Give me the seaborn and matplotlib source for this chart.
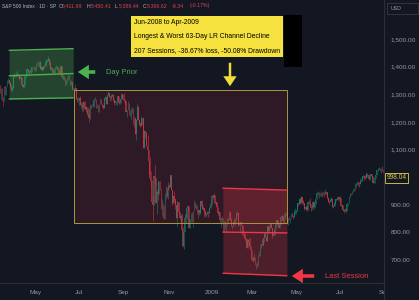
import numpy as np
import pandas as pd
import matplotlib
matplotlib.use("Agg")
import matplotlib.pyplot as plt
import seaborn as sns
from matplotlib.patches import Rectangle, FancyArrowPatch
from matplotlib.lines import Line2D
from matplotlib.transforms import Bbox, TransformedBbox, blended_transform_factory

# ---------------- data ----------------
start_date = "2008-03-12"
end_date = "2009-09-01"
holidays = ["2008-03-21", "2008-05-26", "2008-07-04", "2008-09-01", "2008-11-27",
            "2008-12-25", "2009-01-01", "2009-01-19", "2009-02-16", "2009-04-10",
            "2009-05-25", "2009-07-03"]
first_open = 1321

closes = [
    1309,1315,1288,1277,1331,1298,1330,1350,1353,1341,1326,1315,1323,  # Mar 08
    1370,1368,1369,1370,1373,1366,1355,1361,1333,1328,1334,1365,1366,1390,1388,1376,1380,1389,1398,1396,1391,1386,  # Apr
    1409,1414,1408,1418,1393,1398,1388,1404,1403,1409,1424,1425,1427,1413,1391,1394,1376,1385,1391,1398,1400,  # May
    1386,1378,1377,1404,1361,1362,1358,1336,1340,1360,1360,1351,1338,1343,1318,1318,1314,1322,1283,1278,1280,  # Jun
    1285,1262,1262,1253,1273,1245,1254,1240,1229,1215,1246,1261,1260,1261,1278,1283,1253,1258,1235,1264,1284,1267,  # Jul
    1261,1249,1285,1289,1266,1296,1305,1290,1286,1293,1298,1279,1267,1275,1277,1293,1267,1272,1282,1301,1283,  # Aug
    1278,1275,1237,1242,1268,1225,1232,1250,1252,1193,1214,1156,1207,1255,1208,1189,1186,1209,1213,1106,1166,  # Sep
    1161,1114,1099,1057,996,985,910,899,1003,998,908,946,940,985,956,897,908,877,848,941,930,954,969,  # Oct
    966,1006,953,905,931,920,899,852,911,873,851,859,807,752,800,852,857,888,896,  # Nov
    816,849,870,845,876,910,889,899,873,880,869,913,904,885,888,872,863,868,873,870,890,903,  # Dec
    932,927,935,907,910,891,871,872,843,844,851,805,841,828,832,837,846,874,845,826,  # Jan 09
    825,838,832,845,869,870,828,834,836,827,789,789,779,770,743,773,765,752,735,  # Feb
    700,696,712,682,683,677,720,721,750,757,753,778,795,785,768,823,806,814,832,816,788,798,  # Mar
    811,834,843,835,815,825,857,858,841,852,866,870,832,850,843,852,866,857,855,873,873,  # Apr
    878,907,904,920,907,929,909,908,884,893,882,910,908,904,888,887,910,893,906,919,  # May
    942,945,932,943,940,939,942,940,944,946,923,911,910,918,921,893,896,901,920,918,928,919,  # Jun
    923,896,899,881,879,882,879,901,905,933,941,940,951,955,954,977,979,982,979,975,986,987,  # Jul
    1003,1005,1002,997,1010,1007,994,1006,1012,1004,980,990,997,1007,1026,1025,1028,1028,1031,1029,1021,  # Aug
    998.04,  # Sep 1
]
highs = [
    1333,1321,1321,1290,1331,1331,1330,1350,1358,1353,1345,1336,1329,
    1371,1377,1375,1381,1386,1370,1368,1367,1359,1336,1337,1367,1369,1395,1391,1389,1387,1396,1399,1402,1398,1404,
    1410,1422,1415,1420,1419,1404,1396,1404,1407,1420,1424,1426,1440,1426,1419,1400,1394,1388,1391,1405,1404,
    1400,1394,1386,1404,1404,1371,1366,1358,1353,1361,1371,1370,1351,1348,1342,1323,1326,1336,1321,1286,1291,
    1285,1292,1272,1273,1274,1277,1257,1254,1254,1226,1247,1262,1263,1267,1280,1291,1283,1264,1260,1265,1285,1284,
    1270,1260,1285,1292,1289,1297,1313,1304,1292,1300,1302,1300,1281,1277,1279,1294,1292,1276,1287,1301,1297,
    1304,1281,1275,1244,1274,1268,1243,1250,1255,1250,1222,1214,1210,1265,1256,1211,1198,1220,1215,1210,1169,
    1167,1162,1153,1099,1072,1021,988,933,1006,1045,994,955,984,986,985,955,922,896,896,941,969,963,984,
    975,1007,1005,953,931,951,918,896,913,905,870,865,865,820,801,865,868,888,897,
    889,849,871,875,876,918,911,904,898,882,880,914,911,918,894,890,881,870,874,874,891,911,
    934,936,943,928,910,911,890,877,867,851,858,850,841,840,838,852,852,877,872,851,
    826,842,851,850,871,877,868,839,836,839,821,796,797,778,778,776,781,779,751,
    730,712,724,712,690,695,720,731,753,758,775,778,803,798,784,823,823,826,832,829,809,810,
    811,845,843,842,835,828,857,864,857,852,872,875,868,851,861,853,871,869,864,882,888,
    882,907,907,920,929,930,922,916,905,898,896,910,916,924,902,896,911,913,909,920,
    947,950,945,943,951,946,946,949,956,946,942,928,918,923,927,918,899,911,922,922,928,931,
    932,921,899,899,886,887,883,901,905,933,942,941,951,956,960,979,979,983,982,978,996,994,
    1004,1006,1006,1009,1018,1010,1005,1013,1013,1012,998,991,999,1008,1027,1034,1038,1033,1033,1039,1025,
    1029,
]
lows = [
    1306,1283,1277,1257,1278,1298,1299,1330,1342,1336,1325,1312,1313,
    1324,1361,1361,1363,1370,1361,1350,1351,1332,1324,1324,1335,1358,1370,1383,1371,1376,1375,1382,1394,1389,1384,
    1385,1406,1404,1397,1392,1389,1384,1386,1396,1404,1404,1415,1421,1406,1387,1387,1374,1374,1378,1390,1397,
    1380,1373,1373,1377,1359,1350,1350,1335,1334,1340,1354,1350,1333,1333,1317,1315,1307,1314,1283,1272,1274,
    1262,1261,1252,1240,1239,1245,1236,1225,1225,1200,1211,1245,1257,1255,1254,1277,1252,1251,1234,1235,1264,1263,
    1254,1247,1249,1279,1263,1263,1294,1289,1276,1279,1290,1275,1261,1262,1262,1277,1266,1264,1268,1283,1281,
    1272,1265,1236,1217,1243,1224,1221,1211,1233,1192,1180,1156,1133,1207,1207,1187,1180,1187,1188,1106,1106,
    1140,1111,1098,1008,996,970,909,840,912,972,907,866,918,940,952,884,860,853,848,849,922,928,922,
    960,971,952,899,907,907,884,852,819,870,846,838,806,748,741,801,835,848,880,
    815,817,837,837,818,880,888,885,868,851,862,868,895,883,880,857,860,857,866,857,870,889,
    899,920,927,903,896,888,864,862,837,818,831,804,806,817,804,827,836,846,845,822,
    812,821,831,823,845,862,822,826,805,826,787,780,777,754,743,743,752,752,735,
    700,693,698,682,667,673,680,716,716,743,753,749,766,782,767,770,806,802,814,814,780,790,
    790,814,826,826,814,816,830,850,838,835,847,860,832,826,843,835,853,855,850,856,866,
    866,879,897,903,901,909,904,899,882,882,878,883,903,899,879,883,881,892,887,903,
    923,937,926,930,932,927,935,927,939,935,919,911,904,909,915,892,889,896,896,915,916,914,
    920,896,886,879,869,880,872,876,896,910,928,934,940,945,949,953,966,973,969,965,976,984,
    988,998,991,994,1001,1000,991,991,1005,995,979,980,980,996,1009,1023,1026,1022,1016,1023,1015,
    997,
]

month_ticks = ["2008-05", "2008-07", "2008-09", "2008-11", "2009-01", "2009-03", "2009-05", "2009-07", "2009-09"]
month_labels = ["May", "Jul", "Sep", "Nov", "2009", "Mar", "May", "Jul", "Sep"]
price_ticks = [700, 800, 900, 1000, 1100, 1200, 1300, 1400, 1500]
hidden_price_ticks = [1000]  # covered by the last-price label

# decline box (start close -> end close)
box_dates = ["2008-06-24", "2009-04-20"]
box_prices = [832.39, 1314.29]
# 63-day LR channels: [start, end]
green_dates = ["2008-03-26", "2008-06-23"]
green_top = [1459, 1465]
green_mid = [1367, 1375]
green_bot = [1283, 1287]
red_dates = ["2009-01-20", "2009-04-20"]
red_top = [960, 953]
red_mid = [801, 798]
red_bot = [652, 643]

header_parts = [(2, "S&P 500 Index · 1D · SP", "g"), (58.5, "O", "g"), (62, "5,411.99", "r"),
                (86.5, "H", "g"), (90.5, "5,450.41", "r"), (114.5, "L", "g"), (118.5, "5,386.44", "r"),
                (143, "C", "g"), (147, "5,396.62", "r"), (172, "-9.34", "r"), (190, "(-0.17%)", "r")]
note_lines = ["Jun-2008 to Apr-2009", "Longest & Worst 63-Day LR Channel Decline",
              "207 Sessions, -36.67% loss, -50.08% Drawdown"]

# ---------------- style ----------------
bg = "#131722"
sep = "#2a2e39"
txt = "#9598a1"
teal = "#089981"
red = "#f23645"
green = "#4caf50"
yellow = "#f5e23f"

sns.set_theme(style="dark", rc={"axes.facecolor": bg, "figure.facecolor": bg,
                                 "axes.edgecolor": bg, "grid.color": bg})
plt.rcParams["font.family"] = ["Liberation Sans", "DejaVu Sans"]

W, H = 419, 300
fig = plt.figure(figsize=(W / 100, H / 100), dpi=100)
ax = fig.add_axes([0, 17 / H, 384 / W, 283 / H])
ax.set_facecolor(bg)


def fp(x, y):
    return (x / W, 1 - y / H)


dates = pd.bdate_range(start_date, end_date)
dates = dates[~dates.isin(pd.to_datetime(holidays))]
df = pd.DataFrame({"date": dates, "close": closes, "high": highs, "low": lows})
df["open"] = [first_open] + closes[:-1]
df["x"] = np.arange(len(df))
df["hi"] = df[["high", "open", "close"]].max(axis=1)
df["lo"] = df[["low", "open", "close"]].min(axis=1)
up = (df["close"] >= df["open"]).to_numpy()
cols = np.where(up, teal, red)


def idx(d):
    return int(df.index[df["date"] == pd.Timestamp(d)][0])


ax.vlines(df["x"], df["lo"], df["hi"], colors=cols, lw=0.55, alpha=0.62, zorder=2)
body = (df["close"] - df["open"]).abs().clip(lower=0.8)
ax.bar(df["x"], body, bottom=df[["open", "close"]].min(axis=1), width=0.75,
       color=cols, alpha=0.62, lw=0, zorder=2)

# decline box
bx0, bx1 = idx(box_dates[0]), idx(box_dates[1])
ax.add_patch(Rectangle((bx0, box_prices[0]), bx1 - bx0, box_prices[1] - box_prices[0],
                       fc=red, alpha=0.12, ec="none", zorder=3))
ax.add_patch(Rectangle((bx0, box_prices[0]), bx1 - bx0, box_prices[1] - box_prices[0],
                       fc="none", ec="#a8983a", lw=0.7, zorder=4))

# channels
for dts, top, mid, bot, c, a in [(green_dates, green_top, green_mid, green_bot, green, 0.3),
                                 (red_dates, red_top, red_mid, red_bot, red, 0.26)]:
    xs = [idx(dts[0]), idx(dts[1])]
    ax.fill_between(xs, bot, top, color=c, alpha=a, lw=0, zorder=3)
    for yv in (top, mid, bot):
        sns.lineplot(x=xs, y=yv, ax=ax, color=c, lw=1.0, zorder=5)

ax.set_xlim(0.14, 372.0)
ax.set_ylim(616.7, 1641.2)
for s in ax.spines.values():
    s.set_visible(False)
ax.grid(False)

ax.yaxis.tick_right()
ax.set_yticks(price_ticks)
ax.set_yticklabels(["" if v in hidden_price_ticks else f"{v:,.2f}" for v in price_ticks])
ax.tick_params(axis="y", length=0, pad=5, labelsize=4.6, labelcolor=txt)

xt = [int(df.index[df["date"].dt.strftime("%Y-%m") == m][0]) for m in month_ticks]
ax.set_xticks(xt)
ax.set_xticklabels(month_labels)
ax.tick_params(axis="x", length=0, pad=5, labelsize=4.6, labelcolor=txt)
clipbox = TransformedBbox(Bbox([[0, 0], [384 / W, 1]]), fig.transFigure)
for lbl in ax.get_xticklabels():
    lbl.set_clip_on(True)
    lbl.set_clip_box(clipbox)
ax.set_xlabel("")
ax.set_ylabel("")

# separators
fig.add_artist(Line2D([384 / W, 384 / W], [0, 1], color=sep, lw=0.8))
fig.add_artist(Line2D([0, 384 / W], [17 / H, 17 / H], color=sep, lw=0.8))

# header
for i, (x, s, c) in enumerate(header_parts):
    fig.text(*fp(x, 6), s, color=("#b2b5be" if c == "g" else "#e0404f"),
             fontsize=(3.55 if i == 0 else 3.8), ha="left", va="center")

# USD box
fig.add_artist(Rectangle(fp(387, 14), 31 / W, 11 / H, transform=fig.transFigure,
                         fc=bg, ec="#363a45", lw=0.6))
fig.text(*fp(391, 8.5), "USD", color=txt, fontsize=3.8, ha="left", va="center")

# last price label
tr = blended_transform_factory(ax.transAxes, ax.transData)
ax.text(1.006, closes[-1], f"{closes[-1]:.2f}", transform=tr,
        color="#d6c64c", fontsize=4.8, ha="left", va="center", clip_on=False, zorder=10,
        bbox=dict(boxstyle="square,pad=0.22", fc=bg, ec="#c9b84a", lw=0.7))

# annotation box
fig.add_artist(Rectangle(fp(131, 57), 152 / W, 41 / H, transform=fig.transFigure,
                         fc=yellow, ec="none"))
for yy, s in zip([22.5, 37, 51], note_lines):
    fig.text(*fp(134, yy), s, color="black", fontsize=4.9, ha="left", va="center")
fig.add_artist(Rectangle(fp(284, 67), 18 / W, 52 / H, transform=fig.transFigure,
                         fc="black", ec="none"))

# arrows
fig.add_artist(FancyArrowPatch(fp(230, 60), fp(230, 89), transform=fig.transFigure,
                               arrowstyle="simple,head_length=0.9,head_width=1.2,tail_width=0.22",
                               mutation_scale=8, color="#f0dc3a", lw=0))
fig.add_artist(FancyArrowPatch(fp(98, 72), fp(75, 72), transform=fig.transFigure,
                               arrowstyle="simple,head_length=1.0,head_width=1.3,tail_width=0.32",
                               mutation_scale=8, color=green, lw=0))
fig.add_artist(FancyArrowPatch(fp(317, 276), fp(289, 276), transform=fig.transFigure,
                               arrowstyle="simple,head_length=1.0,head_width=1.3,tail_width=0.32",
                               mutation_scale=8, color=red, lw=0))
fig.text(*fp(106, 72), "Day Prior", color=green, fontsize=5.4, ha="left", va="center")
fig.text(*fp(325, 276), "Last Session", color=red, fontsize=5.4, ha="left", va="center")

fig.savefig("out.png", dpi=100, facecolor=bg)
